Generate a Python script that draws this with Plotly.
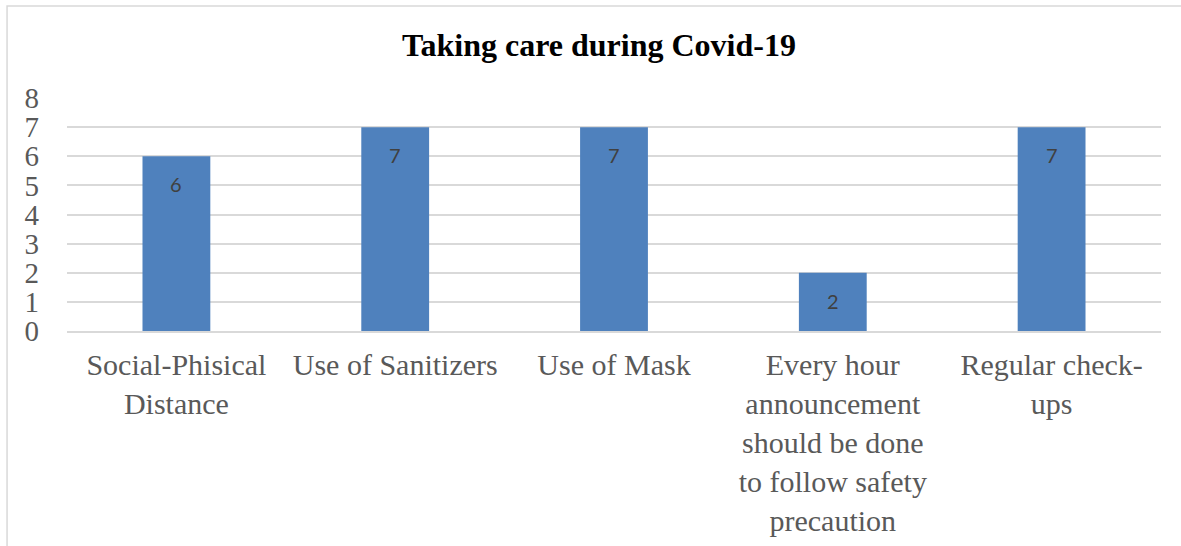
import plotly.graph_objects as go

categories = [
    "Social-Phisical<br>Distance",
    "Use of Sanitizers",
    "Use of Mask",
    "Every hour<br>announcement<br>should be done<br>to follow safety<br>precaution",
    "Regular check-<br>ups",
]
counts = [6, 7, 7, 2, 7]
y_ticks = [0, 1, 2, 3, 4, 5, 6, 7, 8]

BAR = "#4F81BD"
GRID = "#D9D9D9"
TEXT = "#595959"
SERIF = "Liberation Serif, Times New Roman, serif"

fig = go.Figure(
    go.Bar(
        x=categories,
        y=counts,
        marker=dict(color=BAR, line=dict(width=0)),
        width=0.31,
        hoverinfo="skip",
    )
)

# value labels sit inside each bar, just below its top
for cat, val in zip(categories, counts):
    fig.add_annotation(
        x=cat, y=val, text=str(val), showarrow=False,
        yshift=-28, font=dict(family="Lato, Open Sans, sans-serif", size=20, color="#404040"),
    )

# outer chart frame
fig.add_shape(
    type="rect", xref="paper", yref="paper",
    x0=-0.0548, x1=1.05, y0=-1.2, y1=1.395,
    line=dict(color=GRID, width=1.5), fillcolor="rgba(0,0,0,0)", layer="below",
)

fig.update_layout(
    width=1181, height=546,
    margin=dict(l=67, r=20, t=98, b=215, autoexpand=False),
    paper_bgcolor="white", plot_bgcolor="white",
    showlegend=False,
    title=dict(
        text="<b>Taking care during Covid-19</b>",
        x=599 / 1181, xanchor="center", y=1 - 45 / 546, yanchor="middle",
        font=dict(family=SERIF, size=32, color="black"),
    ),
    bargap=0.69,
)
fig.update_xaxes(
    automargin=False,
    showgrid=False, showline=True, linecolor=GRID, linewidth=1.5,
    ticks="", tickangle=0, ticklabelstandoff=6,
    tickfont=dict(family=SERIF, size=30, color=TEXT),
)
fig.update_yaxes(
    automargin=False,
    range=[0, 8], tickvals=y_ticks, showgrid=True, gridcolor=GRID, gridwidth=1.5,
    zeroline=False, showline=False, ticks="", ticklabelstandoff=27,
    tickfont=dict(family=SERIF, size=29, color=TEXT),
)

fig.write_html("out.html")
